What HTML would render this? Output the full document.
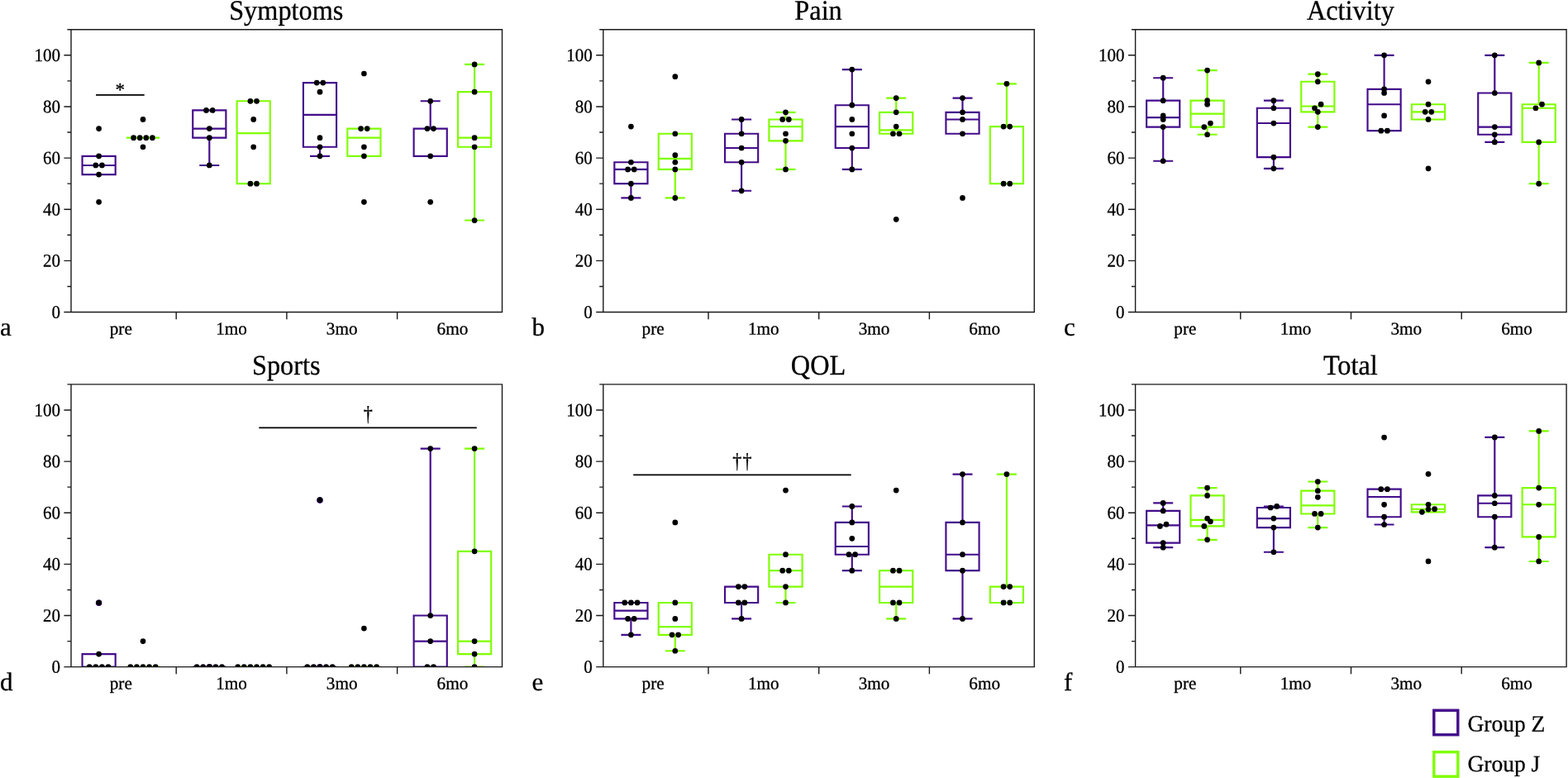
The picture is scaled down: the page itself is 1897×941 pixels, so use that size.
<!DOCTYPE html>
<html lang="en"><head><meta charset="utf-8"><title>KOOS subscale box plots</title>
<style>
html,body{margin:0;padding:0;background:#fff;}
body{width:1897px;height:941px;overflow:hidden;}
svg{display:block;}
text{font-family:"Liberation Serif","DejaVu Serif",serif;fill:#000;stroke:#000;stroke-width:0.3px;}
.xt{font-size:21.2px;text-anchor:middle;}
.yt{font-size:22.1px;text-anchor:end;}
.ttl{font-size:34px;text-anchor:middle;}
.ltr{font-size:31px;}
.sym{font-size:24px;text-anchor:middle;}
.ast{font-size:23px;}
.dag{letter-spacing:1.2px;}
.lg{font-size:28px;}
.ax{stroke:#1a1a1a;stroke-width:1.4;fill:none;}
.z{stroke:#430c8b;stroke-width:2.15;fill:none;}
.j{stroke:#7fff00;stroke-width:2.15;fill:none;}
.d{fill:#000;}
.bar{stroke:#000;stroke-width:1.8;}
</style></head><body>
<svg width="1897" height="941" viewBox="0 0 1897 941">
<rect width="1897" height="941" fill="#fff"/>
<g id="panel-a">
<clipPath id="cp0"><rect x="86" y="35.73" width="521.5" height="341.77"/></clipPath>
<g clip-path="url(#cp0)">
<path class="z" d="M99.53 188.86H139.68V211.05H99.53ZM99.53 199.96H139.68"/>
<path class="j" d="M152.93 166.67H193.07"/>
<path class="z" d="M233.23 133.38H273.38V166.67H233.23ZM233.23 155.57H273.38M253.3 166.67V199.96M241.3 199.96H265.3"/>
<path class="j" d="M286.62 122.28H326.77V222.15H286.62ZM286.62 161.12H326.77"/>
<path class="z" d="M366.93 100.09H407.07V177.76H366.93ZM366.93 138.93H407.07M387 177.76V188.86M375 188.86H399"/>
<path class="j" d="M420.32 155.57H460.47V188.86H420.32ZM420.32 166.67H460.47"/>
<path class="z" d="M500.62 155.57H540.77V188.86H500.62ZM520.7 155.57V122.28M508.7 122.28H532.7"/>
<path class="j" d="M554.02 111.19H594.18V177.76H554.02ZM554.02 166.67H594.18M574.1 111.19V77.9M562.1 77.9H586.1M574.1 177.76V266.54M562.1 266.54H586.1"/>
<circle class="d" cx="119.6" cy="244.34" r="3.35"/>
<circle class="d" cx="119.6" cy="211.05" r="3.35"/>
<circle class="d" cx="115.8" cy="199.96" r="3.35"/>
<circle class="d" cx="123.4" cy="199.96" r="3.35"/>
<circle class="d" cx="119.6" cy="188.86" r="3.35"/>
<circle class="d" cx="119.6" cy="155.57" r="3.35"/>
<circle class="d" cx="173" cy="177.76" r="3.35"/>
<circle class="d" cx="161.6" cy="166.67" r="3.35"/>
<circle class="d" cx="169.2" cy="166.67" r="3.35"/>
<circle class="d" cx="176.8" cy="166.67" r="3.35"/>
<circle class="d" cx="184.4" cy="166.67" r="3.35"/>
<circle class="d" cx="173" cy="144.47" r="3.35"/>
<circle class="d" cx="253.3" cy="199.96" r="3.35"/>
<circle class="d" cx="253.3" cy="166.67" r="3.35"/>
<circle class="d" cx="253.3" cy="155.57" r="3.35"/>
<circle class="d" cx="249.5" cy="133.38" r="3.35"/>
<circle class="d" cx="257.1" cy="133.38" r="3.35"/>
<circle class="d" cx="302.9" cy="222.15" r="3.35"/>
<circle class="d" cx="310.5" cy="222.15" r="3.35"/>
<circle class="d" cx="306.7" cy="177.76" r="3.35"/>
<circle class="d" cx="306.7" cy="144.47" r="3.35"/>
<circle class="d" cx="302.9" cy="122.28" r="3.35"/>
<circle class="d" cx="310.5" cy="122.28" r="3.35"/>
<circle class="d" cx="387" cy="188.86" r="3.35"/>
<circle class="d" cx="387" cy="177.76" r="3.35"/>
<circle class="d" cx="387" cy="166.67" r="3.35"/>
<circle class="d" cx="387" cy="111.19" r="3.35"/>
<circle class="d" cx="383.2" cy="100.09" r="3.35"/>
<circle class="d" cx="390.8" cy="100.09" r="3.35"/>
<circle class="d" cx="440.4" cy="244.34" r="3.35"/>
<circle class="d" cx="440.4" cy="188.86" r="3.35"/>
<circle class="d" cx="440.4" cy="177.76" r="3.35"/>
<circle class="d" cx="436.6" cy="155.57" r="3.35"/>
<circle class="d" cx="444.2" cy="155.57" r="3.35"/>
<circle class="d" cx="440.4" cy="88.99" r="3.35"/>
<circle class="d" cx="520.7" cy="244.34" r="3.35"/>
<circle class="d" cx="520.7" cy="188.86" r="3.35"/>
<circle class="d" cx="516.9" cy="155.57" r="3.35"/>
<circle class="d" cx="524.5" cy="155.57" r="3.35"/>
<circle class="d" cx="520.7" cy="122.28" r="3.35"/>
<circle class="d" cx="574.1" cy="266.54" r="3.35"/>
<circle class="d" cx="574.1" cy="177.76" r="3.35"/>
<circle class="d" cx="574.1" cy="166.67" r="3.35"/>
<circle class="d" cx="574.1" cy="111.19" r="3.35"/>
<circle class="d" cx="574.1" cy="77.9" r="3.35"/>
</g>
<line class="bar" x1="116" y1="114.95" x2="174.7" y2="114.95"/>
<text class="sym ast" transform="translate(145.2 116) rotate(0.03)">*</text>
<path class="ax" d="M81.4 35.73H607.5V377.5H77.4M86 35.73V377.5M77.4 315.36H86M77.4 253.22H86M77.4 191.08H86M77.4 128.94H86M77.4 66.8H86M81.4 346.43H86M81.4 284.29H86M81.4 222.15H86M81.4 160.01H86M81.4 97.87H86M213.2 377.5V386.2M346.9 377.5V386.2M480.6 377.5V386.2"/>
<text class="yt" transform="translate(73 384.7) rotate(0.03) scale(0.95 1)">0</text>
<text class="yt" transform="translate(73 322.56) rotate(0.03) scale(0.95 1)">20</text>
<text class="yt" transform="translate(73 260.42) rotate(0.03) scale(0.95 1)">40</text>
<text class="yt" transform="translate(73 198.28) rotate(0.03) scale(0.95 1)">60</text>
<text class="yt" transform="translate(73 136.14) rotate(0.03) scale(0.95 1)">80</text>
<text class="yt" transform="translate(73 74) rotate(0.03) scale(0.95 1)">100</text>
<text class="xt" transform="translate(146.3 404.4) rotate(0.03)">pre</text>
<text class="xt" transform="translate(280 404.4) rotate(0.03)">1mo</text>
<text class="xt" transform="translate(413.7 404.4) rotate(0.03)">3mo</text>
<text class="xt" transform="translate(547.4 404.4) rotate(0.03)">6mo</text>
<text class="ttl" transform="translate(346.25 23.8) rotate(0.03) scale(0.95 1)">Symptoms</text>
<text class="ltr" transform="translate(-0.1 405.8) rotate(0.03)">a</text>
</g>
<g id="panel-b">
<clipPath id="cp1"><rect x="729.8" y="35.73" width="521.5" height="341.77"/></clipPath>
<g clip-path="url(#cp1)">
<path class="z" d="M743.32 196.26H783.47V222.15H743.32ZM743.32 204.89H783.47M763.4 222.15V239.41M751.4 239.41H775.4"/>
<path class="j" d="M796.72 161.74H836.88V204.89H796.72ZM796.72 191.94H836.88M816.8 204.89V239.41M804.8 239.41H828.8"/>
<path class="z" d="M877.02 161.74H917.17V196.26H877.02ZM877.02 179H917.17M897.1 161.74V144.47M885.1 144.47H909.1M897.1 196.26V230.78M885.1 230.78H909.1"/>
<path class="j" d="M930.42 144.47H970.58V170.37H930.42ZM930.42 153.11H970.58M950.5 144.47V135.84M938.5 135.84H962.5M950.5 170.37V204.89M938.5 204.89H962.5"/>
<path class="z" d="M1010.72 127.21H1050.88V179H1010.72ZM1010.72 153.11H1050.88M1030.8 127.21V84.06M1018.8 84.06H1042.8M1030.8 179V204.89M1018.8 204.89H1042.8"/>
<path class="j" d="M1064.12 135.84H1104.28V161.74H1064.12ZM1064.12 157.42H1104.28M1084.2 135.84V118.58M1072.2 118.58H1096.2"/>
<path class="z" d="M1144.42 135.84H1184.57V161.74H1144.42ZM1144.42 144.47H1184.57M1164.5 135.84V118.58M1152.5 118.58H1176.5"/>
<path class="j" d="M1197.82 153.11H1237.97V222.15H1197.82ZM1217.9 153.11V101.32M1205.9 101.32H1229.9"/>
<circle class="d" cx="763.4" cy="239.41" r="3.35"/>
<circle class="d" cx="763.4" cy="222.15" r="3.35"/>
<circle class="d" cx="759.6" cy="204.89" r="3.35"/>
<circle class="d" cx="767.2" cy="204.89" r="3.35"/>
<circle class="d" cx="763.4" cy="196.26" r="3.35"/>
<circle class="d" cx="763.4" cy="153.11" r="3.35"/>
<circle class="d" cx="816.8" cy="239.41" r="3.35"/>
<circle class="d" cx="816.8" cy="204.89" r="3.35"/>
<circle class="d" cx="816.8" cy="196.26" r="3.35"/>
<circle class="d" cx="816.8" cy="187.63" r="3.35"/>
<circle class="d" cx="816.8" cy="161.74" r="3.35"/>
<circle class="d" cx="816.8" cy="92.69" r="3.35"/>
<circle class="d" cx="897.1" cy="230.78" r="3.35"/>
<circle class="d" cx="897.1" cy="196.26" r="3.35"/>
<circle class="d" cx="897.1" cy="179" r="3.35"/>
<circle class="d" cx="897.1" cy="161.74" r="3.35"/>
<circle class="d" cx="897.1" cy="144.47" r="3.35"/>
<circle class="d" cx="950.5" cy="204.89" r="3.35"/>
<circle class="d" cx="950.5" cy="170.37" r="3.35"/>
<circle class="d" cx="950.5" cy="161.74" r="3.35"/>
<circle class="d" cx="946.7" cy="144.47" r="3.35"/>
<circle class="d" cx="954.3" cy="144.47" r="3.35"/>
<circle class="d" cx="950.5" cy="135.84" r="3.35"/>
<circle class="d" cx="1030.8" cy="204.89" r="3.35"/>
<circle class="d" cx="1030.8" cy="179" r="3.35"/>
<circle class="d" cx="1030.8" cy="161.74" r="3.35"/>
<circle class="d" cx="1030.8" cy="144.47" r="3.35"/>
<circle class="d" cx="1030.8" cy="127.21" r="3.35"/>
<circle class="d" cx="1030.8" cy="84.06" r="3.35"/>
<circle class="d" cx="1084.2" cy="265.3" r="3.35"/>
<circle class="d" cx="1080.4" cy="161.74" r="3.35"/>
<circle class="d" cx="1088" cy="161.74" r="3.35"/>
<circle class="d" cx="1084.2" cy="153.11" r="3.35"/>
<circle class="d" cx="1084.2" cy="135.84" r="3.35"/>
<circle class="d" cx="1084.2" cy="118.58" r="3.35"/>
<circle class="d" cx="1164.5" cy="239.41" r="3.35"/>
<circle class="d" cx="1164.5" cy="161.74" r="3.35"/>
<circle class="d" cx="1164.5" cy="144.47" r="3.35"/>
<circle class="d" cx="1164.5" cy="135.84" r="3.35"/>
<circle class="d" cx="1164.5" cy="118.58" r="3.35"/>
<circle class="d" cx="1214.1" cy="222.15" r="3.35"/>
<circle class="d" cx="1221.7" cy="222.15" r="3.35"/>
<circle class="d" cx="1214.1" cy="153.11" r="3.35"/>
<circle class="d" cx="1221.7" cy="153.11" r="3.35"/>
<circle class="d" cx="1217.9" cy="101.32" r="3.35"/>
</g>
<path class="ax" d="M725.2 35.73H1251.3V377.5H721.2M729.8 35.73V377.5M721.2 315.36H729.8M721.2 253.22H729.8M721.2 191.08H729.8M721.2 128.94H729.8M721.2 66.8H729.8M725.2 346.43H729.8M725.2 284.29H729.8M725.2 222.15H729.8M725.2 160.01H729.8M725.2 97.87H729.8M857 377.5V386.2M990.7 377.5V386.2M1124.4 377.5V386.2"/>
<text class="yt" transform="translate(716.8 384.7) rotate(0.03) scale(0.95 1)">0</text>
<text class="yt" transform="translate(716.8 322.56) rotate(0.03) scale(0.95 1)">20</text>
<text class="yt" transform="translate(716.8 260.42) rotate(0.03) scale(0.95 1)">40</text>
<text class="yt" transform="translate(716.8 198.28) rotate(0.03) scale(0.95 1)">60</text>
<text class="yt" transform="translate(716.8 136.14) rotate(0.03) scale(0.95 1)">80</text>
<text class="yt" transform="translate(716.8 74) rotate(0.03) scale(0.95 1)">100</text>
<text class="xt" transform="translate(790.1 404.4) rotate(0.03)">pre</text>
<text class="xt" transform="translate(923.8 404.4) rotate(0.03)">1mo</text>
<text class="xt" transform="translate(1057.5 404.4) rotate(0.03)">3mo</text>
<text class="xt" transform="translate(1191.2 404.4) rotate(0.03)">6mo</text>
<text class="ttl" transform="translate(990.05 23.8) rotate(0.03) scale(0.95 1)">Pain</text>
<text class="ltr" transform="translate(643.4 405.8) rotate(0.03)">b</text>
</g>
<g id="panel-c">
<clipPath id="cp2"><rect x="1373.6" y="35.73" width="521.5" height="341.77"/></clipPath>
<g clip-path="url(#cp2)">
<path class="z" d="M1387.12 121.63H1427.27V153.61H1387.12ZM1387.12 142.19H1427.27M1407.2 121.63V94.21M1395.2 94.21H1419.2M1407.2 153.61V194.74M1395.2 194.74H1419.2"/>
<path class="j" d="M1440.52 121.63H1480.67V153.61H1440.52ZM1440.52 137.62H1480.67M1460.6 121.63V85.08M1448.6 85.08H1472.6M1460.6 153.61V162.75M1448.6 162.75H1472.6"/>
<path class="z" d="M1520.82 130.77H1560.97V190.17H1520.82ZM1520.82 149.04H1560.97M1540.9 130.77V121.63M1528.9 121.63H1552.9M1540.9 190.17V203.87M1528.9 203.87H1552.9"/>
<path class="j" d="M1574.22 98.78H1614.38V135.34H1574.22ZM1574.22 128.48H1614.38M1594.3 98.78V89.65M1582.3 89.65H1606.3M1594.3 135.34V153.61M1582.3 153.61H1606.3"/>
<path class="z" d="M1654.52 107.92H1694.67V158.18H1654.52ZM1654.52 126.2H1694.67M1674.6 107.92V66.8M1662.6 66.8H1686.6"/>
<path class="j" d="M1707.92 126.2H1748.07V144.47H1707.92ZM1707.92 135.34H1748.07"/>
<path class="z" d="M1788.22 112.49H1828.37V162.75H1788.22ZM1788.22 153.61H1828.37M1808.3 112.49V66.8M1796.3 66.8H1820.3M1808.3 162.75V171.89M1796.3 171.89H1820.3"/>
<path class="j" d="M1841.62 126.2H1881.77V171.89H1841.62ZM1841.62 130.77H1881.77M1861.7 126.2V75.94M1849.7 75.94H1873.7M1861.7 171.89V222.15M1849.7 222.15H1873.7"/>
<circle class="d" cx="1407.2" cy="194.74" r="3.35"/>
<circle class="d" cx="1407.2" cy="153.61" r="3.35"/>
<circle class="d" cx="1407.2" cy="144.47" r="3.35"/>
<circle class="d" cx="1407.2" cy="139.91" r="3.35"/>
<circle class="d" cx="1407.2" cy="121.63" r="3.35"/>
<circle class="d" cx="1407.2" cy="94.21" r="3.35"/>
<circle class="d" cx="1460.6" cy="162.75" r="3.35"/>
<circle class="d" cx="1456.8" cy="153.61" r="3.35"/>
<circle class="d" cx="1464.4" cy="149.04" r="3.35"/>
<circle class="d" cx="1460.6" cy="126.2" r="3.35"/>
<circle class="d" cx="1460.6" cy="121.63" r="3.35"/>
<circle class="d" cx="1460.6" cy="85.08" r="3.35"/>
<circle class="d" cx="1540.9" cy="203.87" r="3.35"/>
<circle class="d" cx="1540.9" cy="190.17" r="3.35"/>
<circle class="d" cx="1540.9" cy="149.04" r="3.35"/>
<circle class="d" cx="1540.9" cy="130.77" r="3.35"/>
<circle class="d" cx="1540.9" cy="121.63" r="3.35"/>
<circle class="d" cx="1594.3" cy="153.61" r="3.35"/>
<circle class="d" cx="1594.3" cy="135.34" r="3.35"/>
<circle class="d" cx="1590.5" cy="130.77" r="3.35"/>
<circle class="d" cx="1598.1" cy="126.2" r="3.35"/>
<circle class="d" cx="1594.3" cy="98.78" r="3.35"/>
<circle class="d" cx="1594.3" cy="89.65" r="3.35"/>
<circle class="d" cx="1670.8" cy="158.18" r="3.35"/>
<circle class="d" cx="1678.4" cy="158.18" r="3.35"/>
<circle class="d" cx="1674.6" cy="139.91" r="3.35"/>
<circle class="d" cx="1674.6" cy="112.49" r="3.35"/>
<circle class="d" cx="1674.6" cy="107.92" r="3.35"/>
<circle class="d" cx="1674.6" cy="66.8" r="3.35"/>
<circle class="d" cx="1728" cy="203.87" r="3.35"/>
<circle class="d" cx="1728" cy="144.47" r="3.35"/>
<circle class="d" cx="1724.2" cy="135.34" r="3.35"/>
<circle class="d" cx="1731.8" cy="135.34" r="3.35"/>
<circle class="d" cx="1728" cy="126.2" r="3.35"/>
<circle class="d" cx="1728" cy="98.78" r="3.35"/>
<circle class="d" cx="1808.3" cy="171.89" r="3.35"/>
<circle class="d" cx="1808.3" cy="162.75" r="3.35"/>
<circle class="d" cx="1808.3" cy="153.61" r="3.35"/>
<circle class="d" cx="1808.3" cy="112.49" r="3.35"/>
<circle class="d" cx="1808.3" cy="66.8" r="3.35"/>
<circle class="d" cx="1861.7" cy="222.15" r="3.35"/>
<circle class="d" cx="1861.7" cy="171.89" r="3.35"/>
<circle class="d" cx="1857.9" cy="130.77" r="3.35"/>
<circle class="d" cx="1865.5" cy="126.2" r="3.35"/>
<circle class="d" cx="1861.7" cy="75.94" r="3.35"/>
</g>
<path class="ax" d="M1369 35.73H1895.1V377.5H1365M1373.6 35.73V377.5M1365 315.36H1373.6M1365 253.22H1373.6M1365 191.08H1373.6M1365 128.94H1373.6M1365 66.8H1373.6M1369 346.43H1373.6M1369 284.29H1373.6M1369 222.15H1373.6M1369 160.01H1373.6M1369 97.87H1373.6M1500.8 377.5V386.2M1634.5 377.5V386.2M1768.2 377.5V386.2"/>
<text class="yt" transform="translate(1360.6 384.7) rotate(0.03) scale(0.95 1)">0</text>
<text class="yt" transform="translate(1360.6 322.56) rotate(0.03) scale(0.95 1)">20</text>
<text class="yt" transform="translate(1360.6 260.42) rotate(0.03) scale(0.95 1)">40</text>
<text class="yt" transform="translate(1360.6 198.28) rotate(0.03) scale(0.95 1)">60</text>
<text class="yt" transform="translate(1360.6 136.14) rotate(0.03) scale(0.95 1)">80</text>
<text class="yt" transform="translate(1360.6 74) rotate(0.03) scale(0.95 1)">100</text>
<text class="xt" transform="translate(1433.9 404.4) rotate(0.03)">pre</text>
<text class="xt" transform="translate(1567.6 404.4) rotate(0.03)">1mo</text>
<text class="xt" transform="translate(1701.3 404.4) rotate(0.03)">3mo</text>
<text class="xt" transform="translate(1835 404.4) rotate(0.03)">6mo</text>
<text class="ttl" transform="translate(1633.85 23.8) rotate(0.03) scale(0.95 1)">Activity</text>
<text class="ltr" transform="translate(1287.1 405.8) rotate(0.03)">c</text>
</g>
<g id="panel-d">
<clipPath id="cp3"><rect x="86" y="464.88" width="521.5" height="341.77"/></clipPath>
<g clip-path="url(#cp3)">
<path class="z" d="M99.53 791.12H139.68V806.65H99.53Z"/>
<path class="j" d="M152.93 806.65H193.07"/>
<path class="z" d="M233.23 806.65H273.38"/>
<path class="j" d="M286.62 806.65H326.77"/>
<path class="z" d="M366.93 806.65H407.07"/>
<path class="j" d="M420.32 806.65H460.47"/>
<path class="z" d="M500.62 744.51H540.77V806.65H500.62ZM500.62 775.58H540.77M520.7 744.51V542.55M508.7 542.55H532.7"/>
<path class="j" d="M554.02 666.84H594.18V791.12H554.02ZM554.02 775.58H594.18M574.1 666.84V542.55M562.1 542.55H586.1M574.1 791.12V806.65M562.1 806.65H586.1"/>
<circle cx="119.6" cy="729.17" r="3.75" fill="#430c8b"/>
<circle cx="253.3" cy="806.65" r="3.7" fill="#430c8b"/>
<circle cx="387" cy="806.65" r="3.7" fill="#430c8b"/>
<circle cx="387" cy="605.09" r="3.8" fill="#430c8b"/>
<circle class="d" cx="108.2" cy="806.65" r="3.35"/>
<circle class="d" cx="115.8" cy="806.65" r="3.35"/>
<circle class="d" cx="123.4" cy="806.65" r="3.35"/>
<circle class="d" cx="131" cy="806.65" r="3.35"/>
<circle class="d" cx="119.6" cy="791.12" r="3.35"/>
<circle class="d" cx="119.6" cy="728.97" r="3.35"/>
<circle class="d" cx="157.8" cy="806.65" r="3.35"/>
<circle class="d" cx="165.4" cy="806.65" r="3.35"/>
<circle class="d" cx="173" cy="806.65" r="3.35"/>
<circle class="d" cx="180.6" cy="806.65" r="3.35"/>
<circle class="d" cx="188.2" cy="806.65" r="3.35"/>
<circle class="d" cx="173" cy="775.58" r="3.35"/>
<circle class="d" cx="238.1" cy="806.65" r="3.35"/>
<circle class="d" cx="245.7" cy="806.65" r="3.35"/>
<circle class="d" cx="253.3" cy="806.65" r="3.35"/>
<circle class="d" cx="260.9" cy="806.65" r="3.35"/>
<circle class="d" cx="268.5" cy="806.65" r="3.35"/>
<circle class="d" cx="287.7" cy="806.65" r="3.35"/>
<circle class="d" cx="295.3" cy="806.65" r="3.35"/>
<circle class="d" cx="302.9" cy="806.65" r="3.35"/>
<circle class="d" cx="310.5" cy="806.65" r="3.35"/>
<circle class="d" cx="318.1" cy="806.65" r="3.35"/>
<circle class="d" cx="325.7" cy="806.65" r="3.35"/>
<circle class="d" cx="371.8" cy="806.65" r="3.35"/>
<circle class="d" cx="379.4" cy="806.65" r="3.35"/>
<circle class="d" cx="387" cy="806.65" r="3.35"/>
<circle class="d" cx="394.6" cy="806.65" r="3.35"/>
<circle class="d" cx="402.2" cy="806.65" r="3.35"/>
<circle class="d" cx="387" cy="604.69" r="3.35"/>
<circle class="d" cx="425.2" cy="806.65" r="3.35"/>
<circle class="d" cx="432.8" cy="806.65" r="3.35"/>
<circle class="d" cx="440.4" cy="806.65" r="3.35"/>
<circle class="d" cx="448" cy="806.65" r="3.35"/>
<circle class="d" cx="455.6" cy="806.65" r="3.35"/>
<circle class="d" cx="440.4" cy="760.04" r="3.35"/>
<circle class="d" cx="516.9" cy="806.65" r="3.35"/>
<circle class="d" cx="524.5" cy="806.65" r="3.35"/>
<circle class="d" cx="520.7" cy="775.58" r="3.35"/>
<circle class="d" cx="520.7" cy="744.51" r="3.35"/>
<circle class="d" cx="520.7" cy="542.55" r="3.35"/>
<circle class="d" cx="574.1" cy="806.65" r="3.35"/>
<circle class="d" cx="574.1" cy="791.12" r="3.35"/>
<circle class="d" cx="574.1" cy="775.58" r="3.35"/>
<circle class="d" cx="574.1" cy="666.84" r="3.35"/>
<circle class="d" cx="574.1" cy="542.55" r="3.35"/>
</g>
<line class="bar" x1="313.3" y1="517.35" x2="576.8" y2="517.35"/>
<text class="sym dag" transform="translate(445.7 508.8) rotate(0.03) scale(0.92 1.075)">†</text>
<path class="ax" d="M81.4 464.88H607.5V806.65H77.4M86 464.88V806.65M77.4 744.51H86M77.4 682.37H86M77.4 620.23H86M77.4 558.09H86M77.4 495.95H86M81.4 775.58H86M81.4 713.44H86M81.4 651.3H86M81.4 589.16H86M81.4 527.02H86M213.2 806.65V815.35M346.9 806.65V815.35M480.6 806.65V815.35"/>
<text class="yt" transform="translate(73 813.85) rotate(0.03) scale(0.95 1)">0</text>
<text class="yt" transform="translate(73 751.71) rotate(0.03) scale(0.95 1)">20</text>
<text class="yt" transform="translate(73 689.57) rotate(0.03) scale(0.95 1)">40</text>
<text class="yt" transform="translate(73 627.43) rotate(0.03) scale(0.95 1)">60</text>
<text class="yt" transform="translate(73 565.29) rotate(0.03) scale(0.95 1)">80</text>
<text class="yt" transform="translate(73 503.15) rotate(0.03) scale(0.95 1)">100</text>
<text class="xt" transform="translate(146.3 833.55) rotate(0.03)">pre</text>
<text class="xt" transform="translate(280 833.55) rotate(0.03)">1mo</text>
<text class="xt" transform="translate(413.7 833.55) rotate(0.03)">3mo</text>
<text class="xt" transform="translate(547.4 833.55) rotate(0.03)">6mo</text>
<text class="ttl" transform="translate(346.25 452.95) rotate(0.03) scale(0.95 1)">Sports</text>
<text class="ltr" transform="translate(-0.1 834.95) rotate(0.03)">d</text>
</g>
<g id="panel-e">
<clipPath id="cp4"><rect x="729.8" y="464.88" width="521.5" height="341.77"/></clipPath>
<g clip-path="url(#cp4)">
<path class="z" d="M743.32 728.97H783.47V748.39H743.32ZM743.32 738.68H783.47M763.4 748.39V767.81M751.4 767.81H775.4"/>
<path class="j" d="M796.72 728.97H836.88V767.81H796.72ZM796.72 758.1H836.88M816.8 767.81V787.23M804.8 787.23H828.8"/>
<path class="z" d="M877.02 709.56H917.17V728.97H877.02ZM897.1 728.97V748.39M885.1 748.39H909.1"/>
<path class="j" d="M930.42 670.72H970.58V709.56H930.42ZM930.42 690.14H970.58M950.5 709.56V728.97M938.5 728.97H962.5"/>
<path class="z" d="M1010.72 631.88H1050.88V670.72H1010.72ZM1010.72 661.01H1050.88M1030.8 631.88V612.46M1018.8 612.46H1042.8M1030.8 670.72V690.14M1018.8 690.14H1042.8"/>
<path class="j" d="M1064.12 690.14H1104.28V728.97H1064.12ZM1064.12 709.56H1104.28M1084.2 728.97V748.39M1072.2 748.39H1096.2"/>
<path class="z" d="M1144.42 631.88H1184.57V690.14H1144.42ZM1144.42 670.72H1184.57M1164.5 631.88V573.62M1152.5 573.62H1176.5M1164.5 690.14V748.39M1152.5 748.39H1176.5"/>
<path class="j" d="M1197.82 709.56H1237.97V728.97H1197.82ZM1217.9 709.56V573.62M1205.9 573.62H1229.9"/>
<circle class="d" cx="763.4" cy="767.81" r="3.35"/>
<circle class="d" cx="759.6" cy="748.39" r="3.35"/>
<circle class="d" cx="767.2" cy="748.39" r="3.35"/>
<circle class="d" cx="755.8" cy="728.97" r="3.35"/>
<circle class="d" cx="763.4" cy="728.97" r="3.35"/>
<circle class="d" cx="771" cy="728.97" r="3.35"/>
<circle class="d" cx="816.8" cy="787.23" r="3.35"/>
<circle class="d" cx="813" cy="767.81" r="3.35"/>
<circle class="d" cx="820.6" cy="767.81" r="3.35"/>
<circle class="d" cx="816.8" cy="748.39" r="3.35"/>
<circle class="d" cx="816.8" cy="728.97" r="3.35"/>
<circle class="d" cx="816.8" cy="631.88" r="3.35"/>
<circle class="d" cx="897.1" cy="748.39" r="3.35"/>
<circle class="d" cx="893.3" cy="728.97" r="3.35"/>
<circle class="d" cx="900.9" cy="728.97" r="3.35"/>
<circle class="d" cx="893.3" cy="709.56" r="3.35"/>
<circle class="d" cx="900.9" cy="709.56" r="3.35"/>
<circle class="d" cx="950.5" cy="728.97" r="3.35"/>
<circle class="d" cx="950.5" cy="709.56" r="3.35"/>
<circle class="d" cx="946.7" cy="690.14" r="3.35"/>
<circle class="d" cx="954.3" cy="690.14" r="3.35"/>
<circle class="d" cx="950.5" cy="670.72" r="3.35"/>
<circle class="d" cx="950.5" cy="593.04" r="3.35"/>
<circle class="d" cx="1030.8" cy="690.14" r="3.35"/>
<circle class="d" cx="1027" cy="670.72" r="3.35"/>
<circle class="d" cx="1034.6" cy="670.72" r="3.35"/>
<circle class="d" cx="1030.8" cy="651.3" r="3.35"/>
<circle class="d" cx="1030.8" cy="631.88" r="3.35"/>
<circle class="d" cx="1030.8" cy="612.46" r="3.35"/>
<circle class="d" cx="1084.2" cy="748.39" r="3.35"/>
<circle class="d" cx="1080.4" cy="728.97" r="3.35"/>
<circle class="d" cx="1088" cy="728.97" r="3.35"/>
<circle class="d" cx="1080.4" cy="690.14" r="3.35"/>
<circle class="d" cx="1088" cy="690.14" r="3.35"/>
<circle class="d" cx="1084.2" cy="593.04" r="3.35"/>
<circle class="d" cx="1164.5" cy="748.39" r="3.35"/>
<circle class="d" cx="1164.5" cy="690.14" r="3.35"/>
<circle class="d" cx="1164.5" cy="670.72" r="3.35"/>
<circle class="d" cx="1164.5" cy="631.88" r="3.35"/>
<circle class="d" cx="1164.5" cy="573.62" r="3.35"/>
<circle class="d" cx="1214.1" cy="728.97" r="3.35"/>
<circle class="d" cx="1221.7" cy="728.97" r="3.35"/>
<circle class="d" cx="1214.1" cy="709.56" r="3.35"/>
<circle class="d" cx="1221.7" cy="709.56" r="3.35"/>
<circle class="d" cx="1217.9" cy="573.62" r="3.35"/>
</g>
<line class="bar" x1="766.2" y1="574.35" x2="1029.7" y2="574.35"/>
<text class="sym dag" transform="translate(898.4 565.8) rotate(0.03) scale(0.92 1.075)">††</text>
<path class="ax" d="M725.2 464.88H1251.3V806.65H721.2M729.8 464.88V806.65M721.2 744.51H729.8M721.2 682.37H729.8M721.2 620.23H729.8M721.2 558.09H729.8M721.2 495.95H729.8M725.2 775.58H729.8M725.2 713.44H729.8M725.2 651.3H729.8M725.2 589.16H729.8M725.2 527.02H729.8M857 806.65V815.35M990.7 806.65V815.35M1124.4 806.65V815.35"/>
<text class="yt" transform="translate(716.8 813.85) rotate(0.03) scale(0.95 1)">0</text>
<text class="yt" transform="translate(716.8 751.71) rotate(0.03) scale(0.95 1)">20</text>
<text class="yt" transform="translate(716.8 689.57) rotate(0.03) scale(0.95 1)">40</text>
<text class="yt" transform="translate(716.8 627.43) rotate(0.03) scale(0.95 1)">60</text>
<text class="yt" transform="translate(716.8 565.29) rotate(0.03) scale(0.95 1)">80</text>
<text class="yt" transform="translate(716.8 503.15) rotate(0.03) scale(0.95 1)">100</text>
<text class="xt" transform="translate(790.1 833.55) rotate(0.03)">pre</text>
<text class="xt" transform="translate(923.8 833.55) rotate(0.03)">1mo</text>
<text class="xt" transform="translate(1057.5 833.55) rotate(0.03)">3mo</text>
<text class="xt" transform="translate(1191.2 833.55) rotate(0.03)">6mo</text>
<text class="ttl" transform="translate(990.05 452.95) rotate(0.03) scale(0.95 1)">QOL</text>
<text class="ltr" transform="translate(643.4 834.95) rotate(0.03)">e</text>
</g>
<g id="panel-f">
<clipPath id="cp5"><rect x="1373.6" y="464.88" width="521.5" height="341.77"/></clipPath>
<g clip-path="url(#cp5)">
<path class="z" d="M1387.12 617.9H1427.27V656.58H1387.12ZM1387.12 635.3H1427.27M1407.2 617.9V608.42M1395.2 608.42H1419.2M1407.2 656.58V662.17M1395.2 662.17H1419.2"/>
<path class="j" d="M1440.52 599.41H1480.67V636.39H1440.52ZM1440.52 628.93H1480.67M1460.6 599.41V590.09M1448.6 590.09H1472.6M1460.6 636.39V652.85M1448.6 652.85H1472.6"/>
<path class="z" d="M1520.82 614.02H1560.97V638.1H1520.82ZM1520.82 627.07H1560.97M1540.9 614.02V612.46M1528.9 612.46H1552.9M1540.9 638.1V667.77M1528.9 667.77H1552.9"/>
<path class="j" d="M1574.22 593.67H1614.38V621.47H1574.22ZM1574.22 611.38H1614.38M1594.3 593.67V582.48M1582.3 582.48H1606.3M1594.3 621.47V638.1M1582.3 638.1H1606.3"/>
<path class="z" d="M1654.52 591.65H1694.67V625.2H1654.52ZM1654.52 600.97H1694.67M1674.6 625.2V634.52M1662.6 634.52H1686.6"/>
<path class="j" d="M1707.92 610.29H1748.07V619.3H1707.92ZM1707.92 615.88H1748.07"/>
<path class="z" d="M1788.22 599.41H1828.37V625.2H1788.22ZM1788.22 608.73H1828.37M1808.3 599.41V528.88M1796.3 528.88H1820.3M1808.3 625.2V662.17M1796.3 662.17H1820.3"/>
<path class="j" d="M1841.62 590.09H1881.77V649.44H1841.62ZM1841.62 610.29H1881.77M1861.7 590.09V521.43M1849.7 521.43H1873.7M1861.7 649.44V678.95M1849.7 678.95H1873.7"/>
<circle class="d" cx="1407.2" cy="662.17" r="3.35"/>
<circle class="d" cx="1407.2" cy="656.58" r="3.35"/>
<circle class="d" cx="1403.4" cy="636.39" r="3.35"/>
<circle class="d" cx="1411" cy="634.21" r="3.35"/>
<circle class="d" cx="1407.2" cy="617.9" r="3.35"/>
<circle class="d" cx="1407.2" cy="608.42" r="3.35"/>
<circle class="d" cx="1460.6" cy="652.85" r="3.35"/>
<circle class="d" cx="1456.8" cy="636.39" r="3.35"/>
<circle class="d" cx="1464.4" cy="630.79" r="3.35"/>
<circle class="d" cx="1460.6" cy="627.07" r="3.35"/>
<circle class="d" cx="1460.6" cy="599.41" r="3.35"/>
<circle class="d" cx="1460.6" cy="590.09" r="3.35"/>
<circle class="d" cx="1540.9" cy="667.77" r="3.35"/>
<circle class="d" cx="1540.9" cy="638.1" r="3.35"/>
<circle class="d" cx="1540.9" cy="627.07" r="3.35"/>
<circle class="d" cx="1537.1" cy="614.02" r="3.35"/>
<circle class="d" cx="1544.7" cy="612.46" r="3.35"/>
<circle class="d" cx="1594.3" cy="638.1" r="3.35"/>
<circle class="d" cx="1590.5" cy="621.47" r="3.35"/>
<circle class="d" cx="1598.1" cy="621.47" r="3.35"/>
<circle class="d" cx="1594.3" cy="601.28" r="3.35"/>
<circle class="d" cx="1594.3" cy="593.67" r="3.35"/>
<circle class="d" cx="1594.3" cy="582.48" r="3.35"/>
<circle class="d" cx="1674.6" cy="634.52" r="3.35"/>
<circle class="d" cx="1674.6" cy="625.2" r="3.35"/>
<circle class="d" cx="1674.6" cy="610.29" r="3.35"/>
<circle class="d" cx="1670.8" cy="591.65" r="3.35"/>
<circle class="d" cx="1678.4" cy="591.65" r="3.35"/>
<circle class="d" cx="1674.6" cy="529.04" r="3.35"/>
<circle class="d" cx="1728" cy="678.95" r="3.35"/>
<circle class="d" cx="1720.4" cy="619.3" r="3.35"/>
<circle class="d" cx="1728" cy="616.04" r="3.35"/>
<circle class="d" cx="1735.6" cy="615.72" r="3.35"/>
<circle class="d" cx="1728" cy="610.29" r="3.35"/>
<circle class="d" cx="1728" cy="573.31" r="3.35"/>
<circle class="d" cx="1808.3" cy="662.17" r="3.35"/>
<circle class="d" cx="1808.3" cy="625.2" r="3.35"/>
<circle class="d" cx="1808.3" cy="608.73" r="3.35"/>
<circle class="d" cx="1808.3" cy="599.41" r="3.35"/>
<circle class="d" cx="1808.3" cy="528.88" r="3.35"/>
<circle class="d" cx="1861.7" cy="678.95" r="3.35"/>
<circle class="d" cx="1861.7" cy="649.44" r="3.35"/>
<circle class="d" cx="1861.7" cy="610.29" r="3.35"/>
<circle class="d" cx="1861.7" cy="590.09" r="3.35"/>
<circle class="d" cx="1861.7" cy="521.43" r="3.35"/>
</g>
<path class="ax" d="M1369 464.88H1895.1V806.65H1365M1373.6 464.88V806.65M1365 744.51H1373.6M1365 682.37H1373.6M1365 620.23H1373.6M1365 558.09H1373.6M1365 495.95H1373.6M1369 775.58H1373.6M1369 713.44H1373.6M1369 651.3H1373.6M1369 589.16H1373.6M1369 527.02H1373.6M1500.8 806.65V815.35M1634.5 806.65V815.35M1768.2 806.65V815.35"/>
<text class="yt" transform="translate(1360.6 813.85) rotate(0.03) scale(0.95 1)">0</text>
<text class="yt" transform="translate(1360.6 751.71) rotate(0.03) scale(0.95 1)">20</text>
<text class="yt" transform="translate(1360.6 689.57) rotate(0.03) scale(0.95 1)">40</text>
<text class="yt" transform="translate(1360.6 627.43) rotate(0.03) scale(0.95 1)">60</text>
<text class="yt" transform="translate(1360.6 565.29) rotate(0.03) scale(0.95 1)">80</text>
<text class="yt" transform="translate(1360.6 503.15) rotate(0.03) scale(0.95 1)">100</text>
<text class="xt" transform="translate(1433.9 833.55) rotate(0.03)">pre</text>
<text class="xt" transform="translate(1567.6 833.55) rotate(0.03)">1mo</text>
<text class="xt" transform="translate(1701.3 833.55) rotate(0.03)">3mo</text>
<text class="xt" transform="translate(1835 833.55) rotate(0.03)">6mo</text>
<text class="ttl" transform="translate(1633.85 452.95) rotate(0.03) scale(0.95 1)">Total</text>
<text class="ltr" transform="translate(1287.1 834.95) rotate(0.03)">f</text>
</g>
<g id="legend">
<rect x="1734.8" y="859.2" width="29" height="29.5" fill="none" stroke="#430c8b" stroke-width="3.4"/>
<rect x="1734.8" y="909.6" width="29" height="29.5" fill="none" stroke="#7fff00" stroke-width="3.4"/>
<text class="lg" transform="translate(1775.5 884.6) rotate(0.03) scale(0.982 1)">Group Z</text>
<text class="lg" transform="translate(1775.5 932.9) rotate(0.03) scale(0.982 1)">Group J</text>
</g>
</svg>
</body></html>
